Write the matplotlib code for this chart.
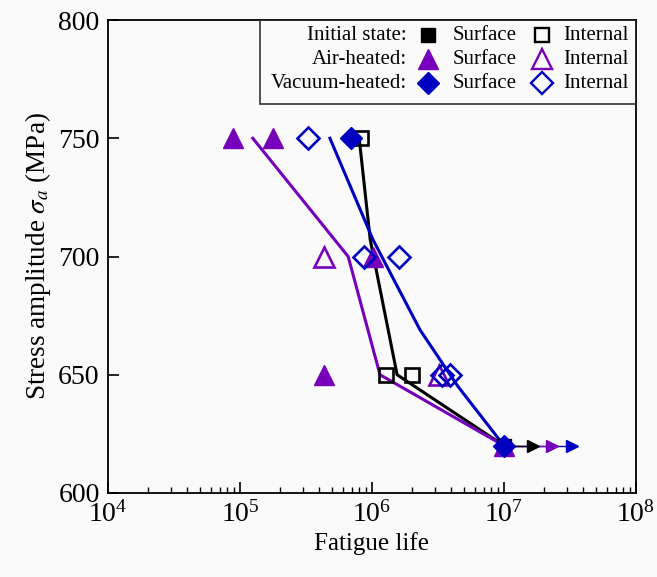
import numpy as np
import matplotlib
matplotlib.use("Agg")
import matplotlib.pyplot as plt
from matplotlib.ticker import LogLocator, NullFormatter, FixedLocator
from matplotlib.patches import Rectangle

plt.rcParams["font.family"] = "Liberation Serif"
plt.rcParams["mathtext.fontset"] = "stix"

BLACK = "black"
PURPLE = "#7700bb"
BLUE = "#0000c0"

# scatter data (fatigue life, stress amplitude)
init_surf_N = [1e7]
init_surf_S = [620]
init_int_N = [8.3e5, 1.27e6, 2.0e6]
init_int_S = [750, 650, 650]

air_surf_N = [8.9e4, 1.78e5, 4.3e5, 1.02e6, 1e7]
air_surf_S = [750, 750, 650, 700, 620]
air_int_N = [4.3e5, 3.2e6]
air_int_S = [700, 650]

vac_surf_N = [6.9e5, 1e7]
vac_surf_S = [750, 620]
vac_int_N = [3.3e5, 8.7e5, 1.59e6, 3.4e6, 3.9e6]
vac_int_S = [750, 700, 700, 650, 650]

# fitted curves
init_fit_N = [8.0e5, 9.7e5, 1.55e6, 1e7]
init_fit_S = [750, 707, 650, 620]
air_fit_N = [1.25e5, 6.6e5, 1.15e6, 1e7]
air_fit_S = [750, 700, 650, 620]
vac_fit_N = [4.8e5, 1.02e6, 1.32e6, 2.31e6, 4.49e6, 1e7]
vac_fit_S = [750, 707, 695, 669, 645, 620]

# run-out arrows
runout_start = 1e7
runout_end = {"vac": 3.3e7, "air": 2.3e7, "init": 1.65e7}
runout_S = 620

fig = plt.figure(figsize=(6.57, 5.77), dpi=100, facecolor="#fafafa")
ax = fig.add_axes([0.1644, 0.1456, 0.8036, 0.8197])
ax.set_facecolor("#fafafa")

ms_sq = 10.5
ms_tri = 14.5
ms_dia = 11.5
lw_fit = 2.2

ax.plot(init_fit_N, init_fit_S, color=BLACK, lw=lw_fit, zorder=2)
ax.plot(air_fit_N, air_fit_S, color=PURPLE, lw=lw_fit, zorder=2)
ax.plot(vac_fit_N, vac_fit_S, color=BLUE, lw=lw_fit, zorder=2)

for key, c in [("vac", BLUE), ("air", PURPLE), ("init", BLACK)]:
    ax.plot([runout_start, runout_end[key]], [runout_S, runout_S], color=c,
            lw=1.0, marker=">", markevery=[1], ms=8, zorder=3)

ax.plot(init_surf_N, init_surf_S, "s", color=BLACK, ms=ms_sq, zorder=4)
ax.plot(init_int_N, init_int_S, "s", mfc="none", mec=BLACK, mew=1.9, ms=ms_sq, zorder=4)
ax.plot(air_surf_N, air_surf_S, "^", color=PURPLE, ms=ms_tri, zorder=4)
ax.plot(air_int_N, air_int_S, "^", mfc="none", mec=PURPLE, mew=1.9, ms=ms_tri, zorder=4)
ax.plot(vac_surf_N, vac_surf_S, "D", color=BLUE, ms=ms_dia, zorder=5)
ax.plot(vac_int_N, vac_int_S, "D", mfc="none", mec=BLUE, mew=1.9, ms=ms_dia, zorder=5)

ax.set_xscale("log")
ax.set_xlim(1e4, 1e8)
ax.set_ylim(600, 800)
ax.xaxis.set_major_locator(LogLocator(base=10, numticks=10))
ax.xaxis.set_minor_locator(LogLocator(base=10, subs=np.arange(2, 10), numticks=20))
ax.xaxis.set_minor_formatter(NullFormatter())
ax.yaxis.set_major_locator(FixedLocator([600, 650, 700, 750, 800]))

ax.tick_params(axis="both", which="major", direction="in", length=8, width=1.2,
               labelsize=20, top=False, right=False, pad=6)
ax.tick_params(axis="x", which="minor", direction="in", length=4, width=1.0, top=False)
for s in ax.spines.values():
    s.set_linewidth(1.3)

ax.set_xlabel("Fatigue life", fontsize=18, labelpad=3)
ax.set_ylabel(r"Stress amplitude $\sigma_a$ (MPa)", fontsize=19.5, labelpad=4)

# legend drawn as a table
titles = ["Initial state:", "Air-heated:", "Vacuum-heated:"]
colors = [BLACK, PURPLE, BLUE]
markers = ["s", "^", "D"]
sizes = [ms_sq, ms_tri, ms_dia]
rows_y = [0.968, 0.917, 0.866]
ax.add_patch(Rectangle((0.288, 0.822), 0.712, 0.178, transform=ax.transAxes,
                       fill=False, edgecolor="#333333", lw=1.2, zorder=6))
for t, c, m, sz, y in zip(titles, colors, markers, sizes, rows_y):
    ax.text(0.566, y, t, transform=ax.transAxes, ha="right", va="center", fontsize=15)
    ax.plot([0.606], [y], m, color=c, ms=sz, transform=ax.transAxes, clip_on=False, zorder=7)
    ax.text(0.652, y, "Surface", transform=ax.transAxes, ha="left", va="center", fontsize=15)
    ax.plot([0.822], [y], m, mfc="none", mec=c, mew=1.7, ms=sz, transform=ax.transAxes,
            clip_on=False, zorder=7)
    ax.text(0.862, y, "Internal", transform=ax.transAxes, ha="left", va="center", fontsize=15)

fig.savefig("out.png", dpi=100, facecolor=fig.get_facecolor())
